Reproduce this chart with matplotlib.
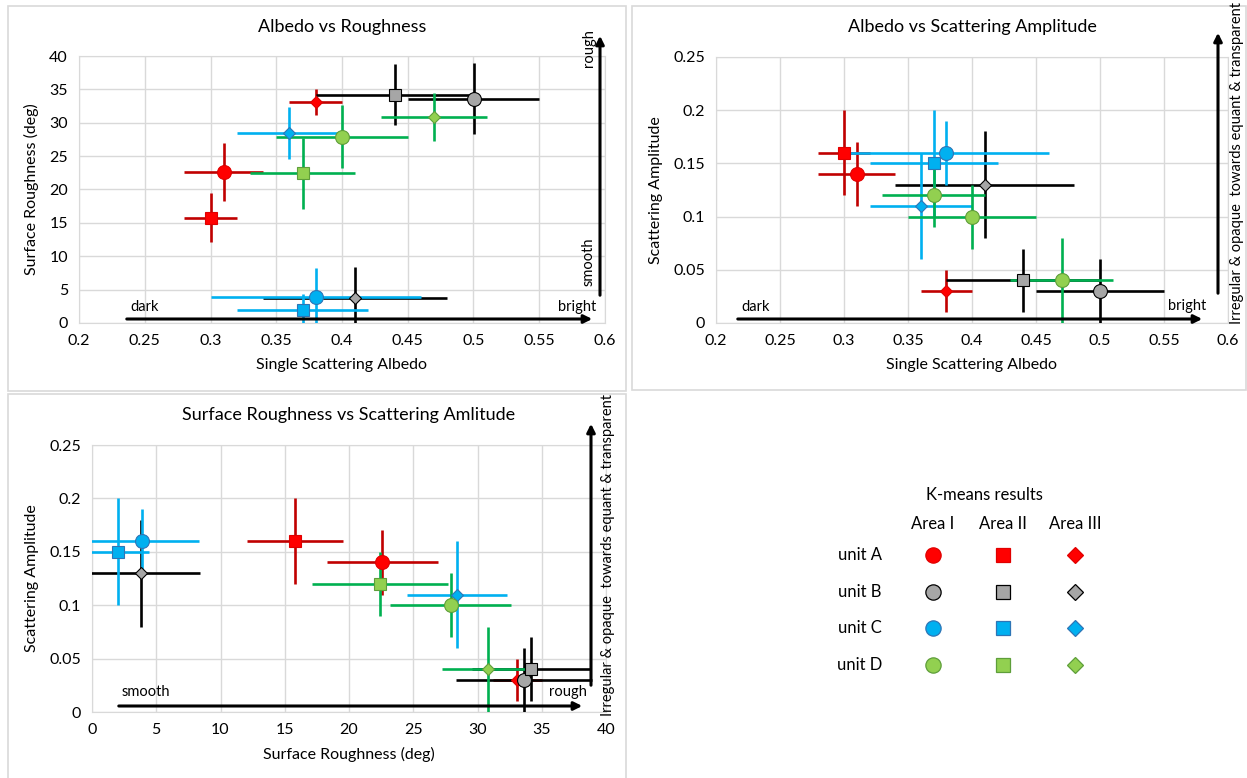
import matplotlib
matplotlib.use("Agg")
import matplotlib.pyplot as plt
from matplotlib.patches import Rectangle
import numpy as np

plt.rcParams['font.family'] = ['Lato', 'DejaVu Sans']

# rows: unit A..D, columns: Area I..III
units = ['unit A', 'unit B', 'unit C', 'unit D']
areas = ['Area I', 'Area II', 'Area III']

albedo = [[0.31, 0.30, 0.38],
          [0.50, 0.44, 0.41],
          [0.38, 0.37, 0.36],
          [0.40, 0.37, 0.47]]
albedo_err = [[0.03, 0.02, 0.02],
              [0.05, 0.06, 0.07],
              [0.08, 0.05, 0.04],
              [0.05, 0.04, 0.04]]
rough = [[22.6, 15.8, 33.1],
         [33.6, 34.2, 3.8],
         [3.9, 2.0, 28.4],
         [27.9, 22.4, 30.8]]
rough_err = [[4.3, 3.7, 1.9],
             [5.3, 4.6, 4.6],
             [4.4, 2.4, 3.9],
             [4.7, 5.3, 3.6]]
amp = [[0.14, 0.16, 0.03],
       [0.03, 0.04, 0.13],
       [0.16, 0.15, 0.11],
       [0.10, 0.12, 0.04]]
amp_err = [[0.03, 0.04, 0.02],
           [0.03, 0.03, 0.05],
           [0.03, 0.05, 0.05],
           [0.03, 0.03, 0.04]]

face = ['#FF0000', '#A6A6A6', '#00B0F0', '#92D050']
edge = ['#E00000', '#000000', '#2E75B6', '#5E9E3A']
errc = ['#C00000', '#000000', '#00B0F0', '#00B050']
marks = ['o', 's', 'D']
msize = {'o': 10, 's': 9, 'D': 6.5}

W, H = 1247, 778
fig = plt.figure(figsize=(W / 100, H / 100), dpi=100)


def fx(x):
    return x / W


def fy(y):
    return 1 - y / H


def make_ax(l, r, t, b):
    return fig.add_axes([fx(l), fy(b), fx(r - l), (b - t) / H])


def style(ax, title, xlabel, ylabel, title_y):
    ax.grid(True, color='#D9D9D9', lw=1)
    ax.set_axisbelow(True)
    for s in ax.spines.values():
        s.set_color('#D9D9D9')
    ax.tick_params(length=0, labelsize=11.5, pad=8)
    ax.set_xlabel(xlabel, fontsize=11.5, labelpad=7)
    ax.set_ylabel(ylabel, fontsize=11.5, labelpad=7)
    p = ax.get_position()
    fig.text(p.x0 + p.width / 2, fy(title_y), title,
             ha='center', va='center', fontsize=13)


def draw(ax, xs, xe, ys, ye, override=None):
    for i in range(4):
        for j in range(3):
            m = marks[j]
            if override and (i, j) in override:
                m = override[(i, j)]
            ax.errorbar(xs[i][j], ys[i][j], xerr=xe[i][j], yerr=ye[i][j],
                        fmt=m, color=errc[i], ecolor=errc[i], elinewidth=1.9,
                        capsize=0, mfc=face[i], mec=edge[i], mew=0.8,
                        ms=msize[m], zorder=3)


def arrow(x0, y0, x1, y1):
    fig.add_artist(matplotlib.patches.FancyArrowPatch(
        (fx(x0), fy(y0)), (fx(x1), fy(y1)), transform=fig.transFigure,
        arrowstyle='-|>', mutation_scale=12, lw=2.2, color='black'))


def frame(l, t, r, b):
    fig.add_artist(Rectangle((fx(l), fy(b)), fx(r - l), (b - t) / H,
                             transform=fig.transFigure, fill=False,
                             ec='#D9D9D9', lw=1.2))


frame(8, 6, 626, 391)
frame(632, 6, 1246, 390)
frame(8, 394, 626, 790)

ticks_alb = ['0.2', '0.25', '0.3', '0.35', '0.4', '0.45', '0.5', '0.55', '0.6']
ticks_amp = ['0', '0.05', '0.1', '0.15', '0.2', '0.25']

# panel 1
ax1 = make_ax(79, 605, 56, 323)
draw(ax1, albedo, albedo_err, rough, rough_err)
ax1.set_xlim(0.2, 0.6)
ax1.set_ylim(0, 40)
ax1.set_xticks(np.arange(0.2, 0.61, 0.05))
ax1.set_xticklabels(ticks_alb)
ax1.set_yticks(range(0, 41, 5))
style(ax1, 'Albedo vs Roughness', 'Single Scattering Albedo', 'Surface Roughness (deg)', 27)
arrow(124, 319, 595, 319)
arrow(600, 298, 600, 33)
fig.text(fx(145), fy(307), 'dark', ha='center', va='center', fontsize=10.5)
fig.text(fx(577), fy(307), 'bright', ha='center', va='center', fontsize=10.5)
fig.text(fx(589), fy(48), 'rough', ha='center', va='center', fontsize=10.5, rotation=90)
fig.text(fx(589), fy(262), 'smooth', ha='center', va='center', fontsize=10.5, rotation=90)

# panel 2
ax2 = make_ax(716, 1228, 57, 323)
draw(ax2, albedo, albedo_err, amp, amp_err, override={(3, 1): 'o', (3, 2): 'o'})
ax2.set_xlim(0.2, 0.6)
ax2.set_ylim(0, 0.25)
ax2.set_xticks(np.arange(0.2, 0.61, 0.05))
ax2.set_xticklabels(ticks_alb)
ax2.set_yticks(np.arange(0, 0.251, 0.05))
ax2.set_yticklabels(ticks_amp)
style(ax2, 'Albedo vs Scattering Amplitude', 'Single Scattering Albedo', 'Scattering Amplitude', 27)
arrow(735, 319, 1205, 319)
arrow(1218, 296, 1218, 30)
fig.text(fx(756), fy(307), 'dark', ha='center', va='center', fontsize=10.5)
fig.text(fx(1187), fy(306), 'bright', ha='center', va='center', fontsize=10.5)
fig.text(fx(1237), fy(163), 'Irregular & opaque  towards equant & transparent',
         ha='center', va='center', fontsize=10.5, rotation=90)

# panel 3
ax3 = make_ax(92, 606, 445, 712)
draw(ax3, rough, rough_err, amp, amp_err)
ax3.set_xlim(0, 40)
ax3.set_ylim(0, 0.25)
ax3.set_xticks(range(0, 41, 5))
ax3.set_yticks(np.arange(0, 0.251, 0.05))
ax3.set_yticklabels(ticks_amp)
style(ax3, 'Surface Roughness vs Scattering Amlitude', 'Surface Roughness (deg)', 'Scattering Amplitude', 415)
arrow(116, 706, 585, 706)
arrow(591, 688, 591, 421)
fig.text(fx(146), fy(692), 'smooth', ha='center', va='center', fontsize=10.5)
fig.text(fx(568), fy(692), 'rough', ha='center', va='center', fontsize=10.5)
fig.text(fx(608), fy(555), 'Irregular & opaque  towards equant & transparent',
         ha='center', va='center', fontsize=10.5, rotation=90)

# legend table
lx = [933, 1003, 1075]
ly = [555, 592, 628, 665]
fig.text(fx(984), fy(495), 'K-means results', ha='center', va='center', fontsize=12)
for j in range(3):
    fig.text(fx(lx[j]), fy(524), areas[j], ha='center', va='center', fontsize=12)
leg = fig.add_axes([0, 0, 1, 1], facecolor='none')
leg.set_xlim(0, W)
leg.set_ylim(H, 0)
leg.axis('off')
lsize = {'o': 11, 's': 10, 'D': 8}
for i in range(4):
    fig.text(fx(860), fy(ly[i]), units[i], ha='center', va='center', fontsize=12)
    for j in range(3):
        leg.plot(lx[j], ly[i], marks[j], ms=lsize[marks[j]], mfc=face[i],
                 mec=edge[i], mew=0.9)

fig.savefig('out.png', dpi=100)
